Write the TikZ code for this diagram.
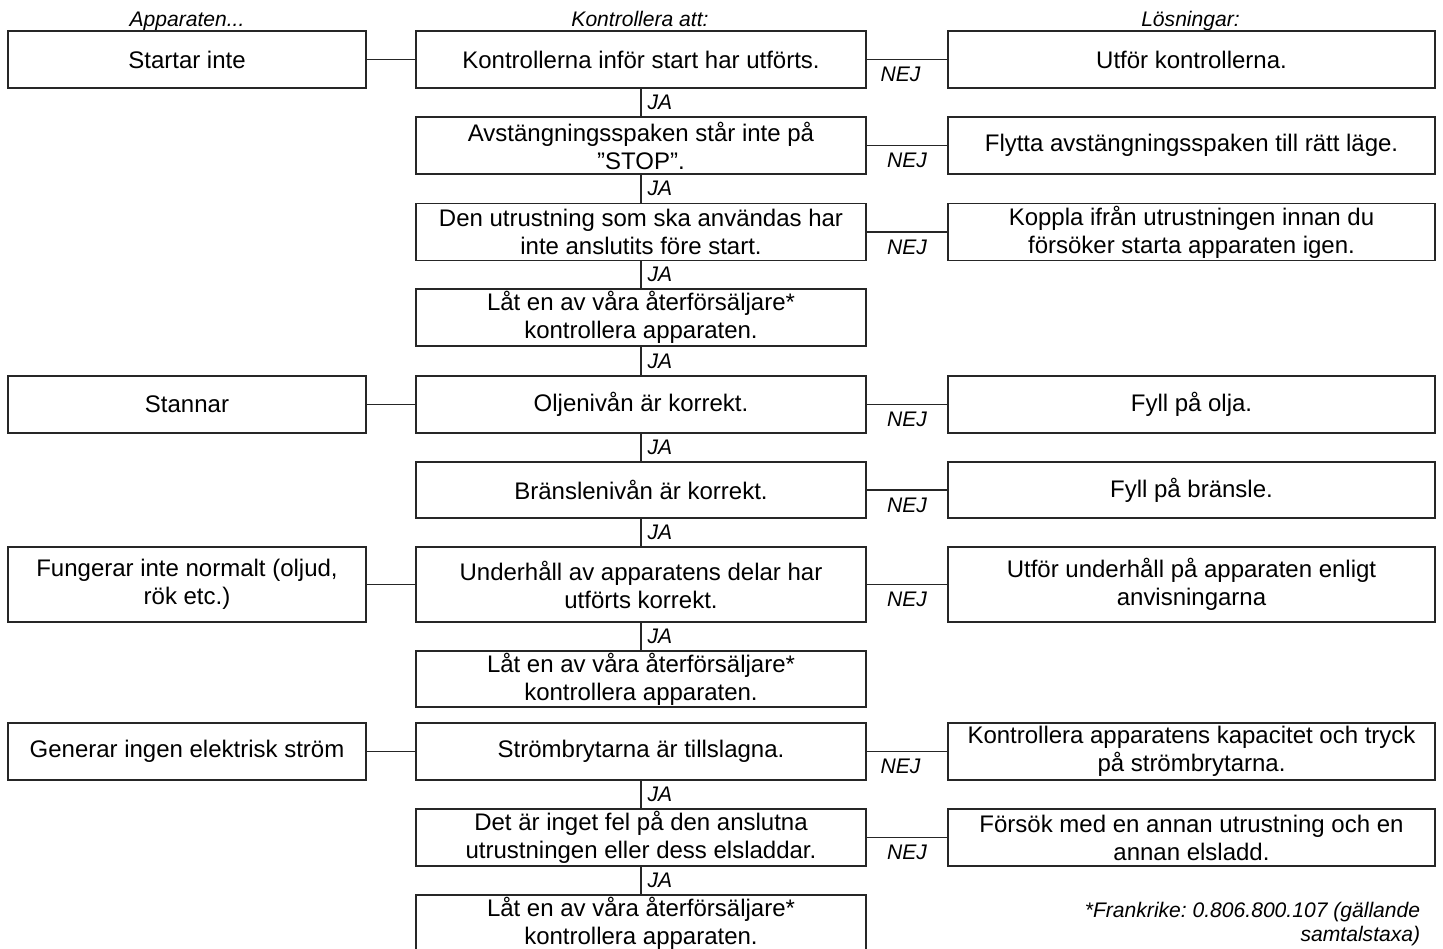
\documentclass[tikz,border=0pt]{standalone}
\usepackage{fontspec}
\setmainfont{Liberation Sans}
\usetikzlibrary{positioning}
\frenchspacing

\newcommand{\boxfont}{\fontsize{13.65}{15.9}\selectfont}
\newcommand{\tagfont}{\fontsize{12.0}{13.7}\selectfont\itshape}

\begin{document}
\begin{tikzpicture}[
  box/.style={draw=black!85, line width=0.65pt, align=center, inner sep=0pt,
              outer sep=0pt, font=\boxfont, minimum height=1.14cm},
  fault/.style={box, minimum width=7.16cm},
  check/.style={box, minimum width=9.00cm},
  fix/.style={box, minimum width=9.74cm},
  link/.style={draw=black!85, line width=0.65pt},
  lbl/.style={font=\tagfont, inner sep=0pt},
  head/.style={font=\tagfont, inner sep=0pt, anchor=base}
]
\useasboundingbox (0,0) rectangle (28.86,-18.96);

%% ── Column headings ───────────────────────────────────────────────────────────
\node[head] (hfault) at (3.74, -0.53)  {Apparaten...};
\node[head] (hcheck) at (12.80, -0.53) {Kontrollera att:};
\node[head] (hfix)   at (23.81, -0.53) {Lösningar:};

%% ── Faults (left column) ──────────────────────────────────────────────────────
\node[fault] (f1) at (3.74, -1.19)  {Startar inte};
\node[fault] (f5) at (3.74, -8.09)  {Stannar};
\node[fault, minimum height=1.50cm] (f7) at (3.74, -11.69)
  {Fungerar inte normalt (oljud,\\rök etc.)};
\node[fault] (f9) at (3.74, -15.03) {Generar ingen elektrisk ström};

%% ── Checks (middle column) ────────────────────────────────────────────────────
\node[check] (c1) at (12.82, -1.19)
  {Kontrollerna inför start har utförts.};
\node[check] (c2) at (12.82, -2.91)
  {Avstängningsspaken står inte på\\”STOP”.};
\node[check] (c3) at (12.82, -4.64)
  {Den utrustning som ska användas har\\inte anslutits före start.};
\node[check] (c4) at (12.82, -6.35)
  {Låt en av våra återförsäljare*\\kontrollera apparaten.};
\node[check] (c5) at (12.82, -8.09)
  {Oljenivån är korrekt.};
\node[check, minimum height=1.12cm] (c6) at (12.82, -9.80)
  {Bränslenivån är korrekt.};
\node[check, minimum height=1.50cm] (c7) at (12.82, -11.69)
  {Underhåll av apparatens delar har\\utförts korrekt.};
\node[check, minimum height=1.12cm] (c8) at (12.82, -13.58)
  {Låt en av våra återförsäljare*\\kontrollera apparaten.};
\node[check] (c9) at (12.82, -15.03)
  {Strömbrytarna är tillslagna.};
\node[check] (c10) at (12.82, -16.75)
  {Det är inget fel på den anslutna\\utrustningen eller dess elsladdar.};
\node[check] (c11) at (12.82, -18.47)
  {Låt en av våra återförsäljare*\\kontrollera apparaten.};

%% ── Solutions (right column) ──────────────────────────────────────────────────
\node[fix] (s1) at (23.83, -1.19)
  {Utför kontrollerna.};
\node[fix] (s2) at (23.83, -2.91)
  {Flytta avstängningsspaken till rätt läge.};
\node[fix] (s3) at (23.83, -4.64)
  {Koppla ifrån utrustningen innan du\\försöker starta apparaten igen.};
\node[fix] (s5) at (23.83, -8.09)
  {Fyll på olja.};
\node[fix, minimum height=1.12cm] (s6) at (23.83, -9.80)
  {Fyll på bränsle.};
\node[fix, minimum height=1.50cm] (s7) at (23.83, -11.69)
  {Utför underhåll på apparaten enligt\\anvisningarna};
\node[fix] (s9) at (23.83, -15.03)
  {Kontrollera apparatens kapacitet och tryck\\på strömbrytarna.};
\node[fix] (s10) at (23.83, -16.75)
  {Försök med en annan utrustning och en\\annan elsladd.};

% footnote
\node[lbl, align=right, anchor=east] (note) at (28.41, -18.48)
  {*Frankrike: 0.806.800.107 (gällande\\samtalstaxa)};

%% ── Connectors ────────────────────────────────────────────────────────────────

% Fault -> first check
\draw[link] (f1) -- (c1);
\draw[link] (f5) -- (c5);
\draw[link] (f7) -- (c7);
\draw[link] (f9) -- (c9);

% Check passed (JA)
\draw[link] (c1)  -- node[lbl, right=0.12cm] {JA} (c2);
\draw[link] (c2)  -- node[lbl, right=0.12cm] {JA} (c3);
\draw[link] (c3)  -- node[lbl, right=0.12cm] {JA} (c4);
\draw[link] (c4)  -- node[lbl, right=0.12cm] {JA} (c5);
\draw[link] (c5)  -- node[lbl, right=0.12cm] {JA} (c6);
\draw[link] (c6)  -- node[lbl, right=0.12cm] {JA} (c7);
\draw[link] (c7)  -- node[lbl, right=0.12cm] {JA} (c8);
\draw[link] (c9)  -- node[lbl, right=0.12cm] {JA} (c10);
\draw[link] (c10) -- node[lbl, right=0.12cm] {JA} (c11);

% Check failed (NEJ)
\draw[link] (c1)  -- node[lbl, below=0.14cm, pos=0.42] {NEJ} (s1);
\draw[link] (c2)  -- node[lbl, below=0.14cm] {NEJ} (s2);
\draw[link] (c3)  -- node[lbl, below=0.14cm] {NEJ} (s3);
\draw[link] (c5)  -- node[lbl, below=0.14cm] {NEJ} (s5);
\draw[link] (c6)  -- node[lbl, below=0.14cm] {NEJ} (s6);
\draw[link] (c7)  -- node[lbl, below=0.14cm] {NEJ} (s7);
\draw[link] (c9)  -- node[lbl, below=0.14cm, pos=0.42] {NEJ} (s9);
\draw[link] (c10) -- node[lbl, below=0.14cm] {NEJ} (s10);

\end{tikzpicture}
\end{document}
